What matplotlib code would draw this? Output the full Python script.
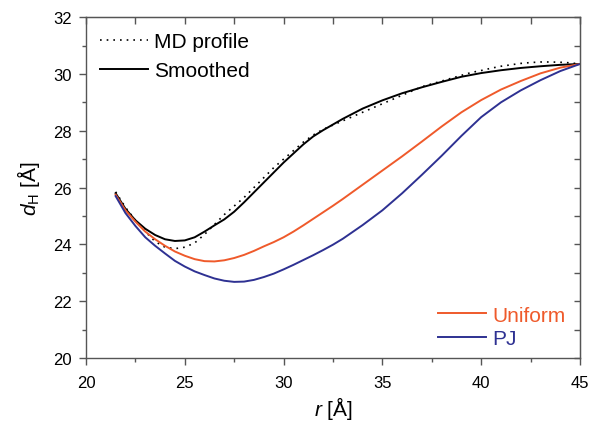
'''
Hydrophobic thickness profile d_H(r): MD profile vs smoothed vs models
'''
import matplotlib
matplotlib.use('Agg')
import matplotlib.pyplot as plt
from matplotlib.ticker import MultipleLocator

plt.rcParams['font.family'] = ['Liberation Sans', 'DejaVu Sans']
plt.rcParams['mathtext.fontset'] = 'custom'
plt.rcParams['mathtext.rm'] = 'Liberation Sans'
plt.rcParams['mathtext.it'] = 'Liberation Sans:italic'

# ----------------------------
r_md  = [21.5, 22.0, 22.5, 23.0, 23.5, 24.0, 24.5, 25.0, 25.5, 26.0,
         26.5, 27.0, 27.5, 28.0, 28.5, 29.0, 29.5, 30.0, 30.5, 31.0,
         31.5, 32.0, 32.5, 33.0, 33.5, 34.0, 34.5, 35.0, 35.5, 36.0,
         36.5, 37.0, 37.5, 38.0, 38.5, 39.0, 39.5, 40.0, 40.5, 41.0,
         41.5, 42.0, 42.5, 43.0, 43.5, 44.0, 44.5, 45.0]
d_md  = [25.85, 25.3, 24.85, 24.45, 24.1, 23.9, 23.85, 23.9, 24.05, 24.35,
         24.7, 25.05, 25.35, 25.65, 26.0, 26.35, 26.7, 27.0, 27.3, 27.6,
         27.85, 28.05, 28.2, 28.35, 28.5, 28.65, 28.8, 28.95, 29.1, 29.25,
         29.4, 29.55, 29.65, 29.75, 29.85, 29.95, 30.05, 30.12, 30.2, 30.27,
         30.32, 30.37, 30.4, 30.42, 30.42, 30.41, 30.39, 30.35]

r_fit = [21.5, 22.0, 22.5, 23.0, 23.5, 24.0, 24.5, 25.0, 25.5, 26.0,
         26.5, 27.0, 27.5, 28.0, 28.5, 29.0, 29.5, 30.0, 30.5, 31.0,
         31.5, 32.0, 32.5, 33.0, 34.0, 35.0, 36.0, 37.0, 38.0, 39.0,
         40.0, 41.0, 42.0, 43.0, 44.0, 45.0]
d_smooth  = [25.8, 25.25, 24.85, 24.55, 24.33, 24.18, 24.12, 24.14, 24.25, 24.45,
             24.67, 24.88, 25.15, 25.48, 25.83, 26.18, 26.53, 26.88, 27.2, 27.52,
             27.8, 28.02, 28.22, 28.42, 28.78, 29.07, 29.32, 29.53, 29.72, 29.9,
             30.03, 30.13, 30.21, 30.27, 30.32, 30.35]
d_uniform = [25.75, 25.2, 24.8, 24.45, 24.18, 23.95, 23.75, 23.6, 23.48, 23.41,
             23.4, 23.44, 23.52, 23.63, 23.77, 23.93, 24.08, 24.25, 24.45, 24.67,
             24.9, 25.13, 25.36, 25.6, 26.1, 26.6, 27.1, 27.62, 28.15, 28.65,
             29.08, 29.45, 29.75, 30.02, 30.22, 30.35]
d_pj      = [25.7, 25.1, 24.65, 24.25, 23.95, 23.68, 23.42, 23.22, 23.05, 22.92,
             22.8, 22.72, 22.68, 22.69, 22.75, 22.85, 22.97, 23.12, 23.28, 23.45,
             23.62, 23.8, 23.99, 24.2, 24.68, 25.2, 25.8, 26.45, 27.12, 27.82,
             28.48, 29.0, 29.42, 29.78, 30.1, 30.35]

c_uniform = '#EF5A2B'
c_pj      = '#2E3192'
c_axis    = '#555555'
# ----------------------------
fig = plt.figure(figsize=(6.0, 4.31), dpi=100)
ax  = fig.add_axes([0.1433, 0.167, 0.8234, 0.791])

l_md, = ax.plot(r_md, d_md, color='black', lw=1.2, linestyle=(0, (1, 3)), label='MD profile')
l_sm, = ax.plot(r_fit, d_smooth, color='black', lw=1.4, label='Smoothed')
l_un, = ax.plot(r_fit, d_uniform, color=c_uniform, lw=1.4, label='Uniform')
l_pj, = ax.plot(r_fit, d_pj, color=c_pj, lw=1.4, label='PJ')

ax.set_xlim(20, 45)
ax.set_ylim(20, 32)
ax.xaxis.set_major_locator(MultipleLocator(5))
ax.xaxis.set_minor_locator(MultipleLocator(2.5))
ax.yaxis.set_major_locator(MultipleLocator(2))
ax.yaxis.set_minor_locator(MultipleLocator(1))

for sp in ax.spines.values():
    sp.set_color(c_axis)
    sp.set_linewidth(1.0)

ax.tick_params(which='major', direction='out', length=5, width=1, color=c_axis,
               labelsize=12, top=False, right=False)
ax.tick_params(which='minor', direction='out', length=3, width=1, color=c_axis,
               top=False, right=False)
ax.tick_params(axis='x', which='major', pad=7)
ax.tick_params(axis='y', which='major', pad=5)

top = ax.secondary_xaxis('top')
top.xaxis.set_major_locator(MultipleLocator(2.5))
top.tick_params(direction='in', length=5, width=1, color=c_axis, labeltop=False)
top.spines['top'].set_color(c_axis)

rgt = ax.secondary_yaxis('right')
rgt.yaxis.set_major_locator(MultipleLocator(1))
rgt.tick_params(direction='in', length=4, width=1, color=c_axis, labelright=False)
rgt.spines['right'].set_color(c_axis)

ax.set_xlabel(r'$\it{r}$ [Å]', fontsize=15, labelpad=3)
ax.set_ylabel(r'$\it{d}_{\rm H}$ [Å]', fontsize=15, labelpad=8)

leg1 = ax.legend(handles=[l_md, l_sm], loc='upper left', bbox_to_anchor=(0.028, 0.955),
                 frameon=False, fontsize=15, borderpad=0, borderaxespad=0,
                 handlelength=2.3, handletextpad=0.3, labelspacing=0.45)
ax.add_artist(leg1)
leg2 = ax.legend(handles=[l_un, l_pj], loc='lower right', bbox_to_anchor=(0.97, 0.03),
                 frameon=False, fontsize=15, borderpad=0, borderaxespad=0,
                 handlelength=2.3, handletextpad=0.3, labelspacing=0.2,
                 labelcolor='linecolor')

plt.savefig('out.png', dpi=100)
plt.close()
